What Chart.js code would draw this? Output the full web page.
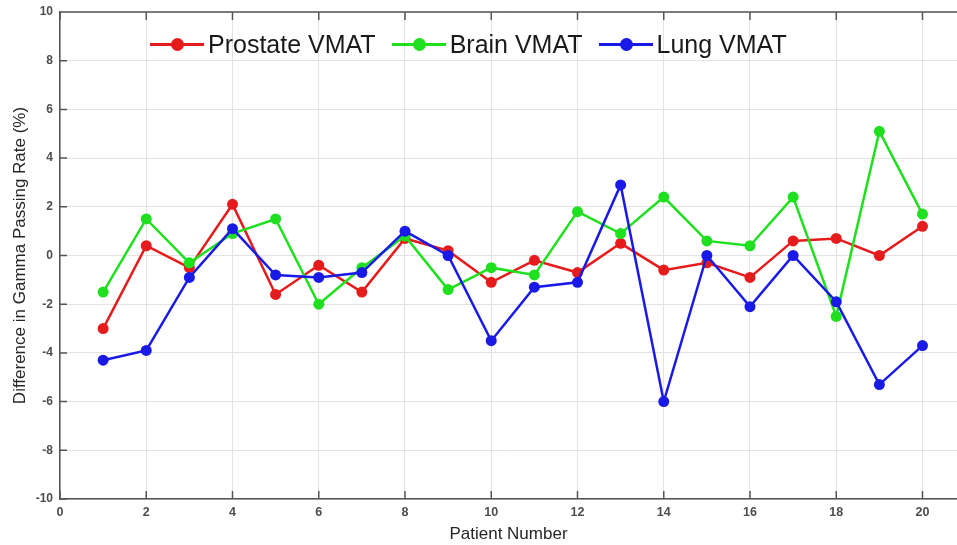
<!DOCTYPE html>
<html>
<head>
<meta charset="utf-8">
<script src="https://cdn.jsdelivr.net/npm/chart.js@4.4.1/dist/chart.umd.min.js"></script>
<style>
    html, body { margin: 0; padding: 0; background: #fff; }
    #wrap { position: relative; width: 957px; height: 545px; }
    #legend {
        position: absolute; left: 150px; top: 30px; height: 28px;
        display: flex; align-items: center;
        font-family: "Liberation Sans", Arial, sans-serif; font-size: 25px; color: #1a1a1a;
    }
    .item { display: flex; align-items: center; margin-right: 16px; }
    .swatch { position: relative; width: 54px; height: 3px; margin-right: 4px; }
    .swatch i { position: absolute; left: 21px; top: -5px; width: 13px; height: 13px; border-radius: 50%; }
</style>
</head>
<body>
<div id="wrap">
    <canvas id="chart" width="957" height="545"></canvas>
    <div id="legend"></div>
</div>
<script>
// patient numbers on the x axis
const patients = [1, 2, 3, 4, 5, 6, 7, 8, 9, 10, 11, 12, 13, 14, 15, 16, 17, 18, 19, 20];

// difference in gamma passing rate (%)
const prostate = [-3.0, 0.4, -0.5, 2.1, -1.6, -0.4, -1.5, 0.7, 0.2, -1.1, -0.2, -0.7, 0.5, -0.6, -0.3, -0.9, 0.6, 0.7, 0.0, 1.2];
const brain = [-1.5, 1.5, -0.3, 0.9, 1.5, -2.0, -0.5, 0.8, -1.4, -0.5, -0.8, 1.8, 0.9, 2.4, 0.6, 0.4, 2.4, -2.5, 5.1, 1.7];
const lung = [-4.3, -3.9, -0.9, 1.1, -0.8, -0.9, -0.7, 1.0, 0.0, -3.5, -1.3, -1.1, 2.9, -6.0, 0.0, -2.1, 0.0, -1.9, -5.3, -3.7];

const seriesNames = ['Prostate VMAT', 'Brain VMAT', 'Lung VMAT'];
const seriesColors = ['#e61c1c', '#1ee01e', '#1a1ae8'];

const FONT = '"Liberation Sans", Arial, sans-serif';

function toPoints(values) {
    return patients.map((p, i) => ({ x: p, y: values[i] }));
}

function makeDataset(idx, values, order) {
    return {
        label: seriesNames[idx],
        data: toPoints(values),
        borderColor: seriesColors[idx],
        backgroundColor: seriesColors[idx],
        borderWidth: 2.5,
        pointRadius: 5.5,
        pointBorderWidth: 0,
        tension: 0,
        order: order
    };
}

// MATLAB style box: top edge + inward tick marks
const boxTicks = {
    id: 'boxTicks',
    afterDraw(chart) {
        const { ctx, chartArea: a, scales: { x, y } } = chart;
        ctx.save();
        ctx.strokeStyle = '#555';
        ctx.lineWidth = 1.5;
        ctx.beginPath();
        ctx.moveTo(a.left, a.top);
        ctx.lineTo(a.right, a.top);
        x.ticks.forEach(t => {
            const px = x.getPixelForValue(t.value);
            ctx.moveTo(px, a.bottom);
            ctx.lineTo(px, a.bottom - 8);
            ctx.moveTo(px, a.top);
            ctx.lineTo(px, a.top + 8);
        });
        y.ticks.forEach(t => {
            const py = y.getPixelForValue(t.value);
            ctx.moveTo(a.left, py);
            ctx.lineTo(a.left + 7, py);
        });
        ctx.stroke();
        ctx.restore();
    }
};

new Chart(document.getElementById('chart'), {
    type: 'line',
    data: {
        datasets: [
            makeDataset(0, prostate, 3),
            makeDataset(1, brain, 2),
            makeDataset(2, lung, 1)
        ]
    },
    options: {
        responsive: false,
        animation: false,
        layout: { autoPadding: false, padding: { top: 12, right: 0, left: 0, bottom: 0 } },
        plugins: {
            legend: { display: false },
            tooltip: { enabled: false }
        },
        scales: {
            x: {
                type: 'linear',
                min: 0,
                max: 20.8,
                afterFit: s => { s.height = 46; s.paddingLeft = 0; s.paddingRight = 0; },
                ticks: {
                    stepSize: 2,
                    includeBounds: false,
                    padding: 6,
                    color: '#4d4d4d',
                    font: { family: FONT, size: 12.5, weight: 'bold' }
                },
                grid: { color: '#e3e3e3', lineWidth: 1, drawTicks: false },
                border: { color: '#555', width: 1.5 },
                title: {
                    display: true,
                    text: 'Patient Number',
                    color: '#262626',
                    padding: { top: 0, bottom: 0 },
                    font: { family: FONT, size: 17 }
                }
            },
            y: {
                min: -10,
                max: 10,
                afterFit: s => { s.width = 60; s.paddingTop = 0; s.paddingBottom = 0; },
                ticks: {
                    stepSize: 2,
                    padding: 7,
                    color: '#4d4d4d',
                    font: { family: FONT, size: 12, weight: 'bold' }
                },
                grid: { color: '#e3e3e3', lineWidth: 1, drawTicks: false },
                border: { color: '#555', width: 1.5 },
                title: {
                    display: true,
                    text: 'Difference in Gamma Passing Rate (%)',
                    color: '#262626',
                    padding: { top: 10, bottom: 0 },
                    font: { family: FONT, size: 17 }
                }
            }
        }
    },
    plugins: [boxTicks]
});

// legend drawn inside the plot, as in the reference
const legend = document.getElementById('legend');
seriesNames.forEach((name, i) => {
    const item = document.createElement('div');
    item.className = 'item';
    item.innerHTML = '<span class="swatch" style="background:' + seriesColors[i] + '"><i style="background:' +
        seriesColors[i] + '"></i></span><span>' + name + '</span>';
    legend.appendChild(item);
});
</script>
</body>
</html>
